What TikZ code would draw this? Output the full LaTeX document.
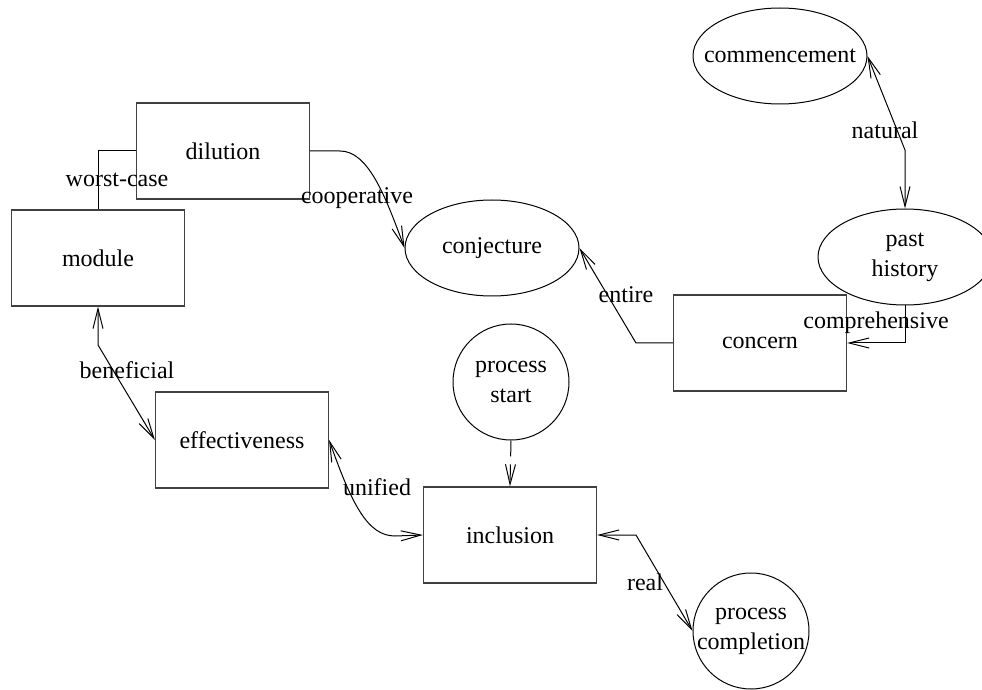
\documentclass[tikz,border=0pt]{standalone}
\usepackage{fontspec}
\setmainfont{Liberation Serif}
\usetikzlibrary{shapes.geometric,arrows.meta}
\newcommand{\zw}[1]{\makebox[0pt]{#1}}
\begin{document}
\begin{tikzpicture}[x=0.5pt,y=-0.5pt,
  font=\fontsize{12}{15}\selectfont,
  box/.style={draw=black!75,line width=0.6pt,rectangle,minimum width=86.5pt,minimum height=48pt,inner sep=0pt},
  oval/.style={draw,line width=0.5pt,ellipse,minimum width=87pt,minimum height=48pt,inner sep=0pt,align=center},
  circ/.style={draw,line width=0.5pt,circle,minimum size=58pt,inner sep=0pt,align=center},
  lbl/.style={inner sep=0pt},
  conn/.style={line width=0.5pt},
  >={Straight Barb[length=10pt,width=5pt]}]
\useasboundingbox (0,0) rectangle (982,690);
% nodes
\node[box] (dilution) at (223,151) {dilution};
\node[box] (module) at (98,258) {module};
\node[oval] (conjecture) at (492,248) {\zw{conjecture}};
\node[oval] (commencement) at (780,56) {\zw{commencement}};
\node[oval] (past) at (905,257) {\zw{past}\\\zw{history}};
\node[box] (concern) at (760,343) {concern};
\node[circ] (pstart) at (511,382) {\zw{process}\\\zw{start}};
\node[box] (effect) at (242,440) {effectiveness};
\node[box] (inclusion) at (510,535) {inclusion};
\node[circ] (pcomp) at (751,631) {\zw{process}\\\zw{completion}};
% bend points
\coordinate (b1) at (340,151);
\coordinate (b2) at (636,343);
\coordinate (b3) at (905,150);
\coordinate (b4) at (98,345);
\coordinate (b5) at (395,536);
\coordinate (b6) at (636,535);
% connectors
\draw[conn] (dilution.west) -| (module.north);
\draw[conn,->] (dilution.east) -- (b1) .. controls (368,151) and (385,195) .. (conjecture.west);
\draw[conn,->] (concern.west) -- (b2) -- (conjecture.east);
\draw[conn,<->] (commencement.east) -- (b3) -- (past.north);
\draw[conn,->] (past.south) |- (concern.east);
\draw[conn,<->] (module.south) -- (b4) -- (effect.west);
\draw[conn,<->] (effect.east) .. controls (352,505) and (368,536) .. (b5) -- (inclusion.west);
\draw[conn,->,dashed,dash pattern=on 8pt off 4pt] (pstart.south) -- (inclusion.north);
\draw[conn,<->] (inclusion.east) -- (b6) -- (pcomp.west);
% labels
\node[lbl] (l1) at (117,180) {worst-case};
\node[lbl] (l2) at (357,198) {cooperative};
\node[lbl] (l3) at (626,295) {entire};
\node[lbl] (l4) at (885,130) {natural};
\node[lbl] (l5) at (876,323) {comprehensive};
\node[lbl] (l6) at (127,370) {beneficial};
\node[lbl] (l7) at (377,487) {unified};
\node[lbl] (l8) at (645,582) {real};
\end{tikzpicture}
\end{document}
